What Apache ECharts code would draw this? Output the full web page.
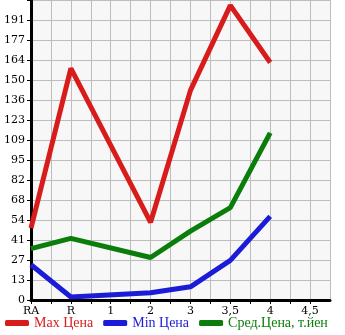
<!DOCTYPE html>
<html>
<head>
<meta charset="utf-8">
<script src="https://cdn.jsdelivr.net/npm/echarts@6/dist/echarts.min.js"></script>
<style>html,body{margin:0;padding:0;background:#fff}#c{width:345px;height:335px}</style>
</head>
<body>
<div id="c"></div>
<script>
var categories = ['RA', 'R', '1', '2', '3', '3,5', '4', '4,5'];
var yTickLabels = ['0', '13', '27', '41', '54', '68', '82', '95', '109', '123', '136', '150', '164', '177', '191'];
var maxPrice = [49, 158, null, 53, 143, 201, 162];
var minPrice = [24, 2, null, 5, 9, 27, 57];
var avgPrice = [35, 42, null, 29, 47, 63, 114];
var seriesNames = ['Max Цена', 'Min Цена', 'Сред.Цена, т.йен'];
var colors = ['#d81c1c', '#1c1cd8', '#0a7d0a'];

var yStep = 191 / 14;
var yMax = yStep * 15;

function toPoints(arr) {
  var out = [];
  arr.forEach(function (v, i) { if (v !== null) out.push([i, v]); });
  return out;
}

var chart = echarts.init(document.getElementById('c'));
var font = 'Liberation Serif';
var tickFont = 'DejaVu Serif';
chart.setOption({
  animation: false,
  backgroundColor: '#ffffff',
  grid: { left: 31, right: 15, top: 0, bottom: 35, show: true, backgroundColor: '#f7f7f7', borderWidth: 0 },
  xAxis: {
    type: 'value', min: 0, max: 7.5, interval: 0.5,
    axisLine: { show: true, onZero: false, lineStyle: { color: '#000', width: 3 } },
    axisTick: { show: true, length: 4, lineStyle: { color: '#000', width: 1 } },
    splitLine: { show: true, lineStyle: { color: '#bdbdbd', width: 1 } },
    axisLabel: {
      color: '#000', fontFamily: tickFont, fontSize: 11, margin: 6, showMaxLabel: false,
      formatter: function (v) {
        if (Math.abs(v - Math.round(v)) < 1e-6) { return categories[Math.round(v)] || ''; }
        return '';
      }
    }
  },
  yAxis: {
    type: 'value', min: 0, max: yMax, interval: yStep,
    axisLine: { show: true, lineStyle: { color: '#000', width: 3 } },
    axisTick: { show: true, length: 4, lineStyle: { color: '#000', width: 1 } },
    splitLine: { show: true, lineStyle: { color: '#bdbdbd', width: 1 } },
    axisLabel: {
      color: '#000', fontFamily: tickFont, fontSize: 11, margin: 6, showMaxLabel: false,
      formatter: function (v) {
        var i = Math.round(v / yStep);
        return yTickLabels[i] !== undefined ? yTickLabels[i] : '';
      }
    }
  },
  legend: {
    left: 0, bottom: 0, itemWidth: 24, itemHeight: 6, itemGap: 10, icon: 'roundRect',
    textStyle: { fontFamily: font, fontSize: 14 },
    data: seriesNames.map(function (n, i) { return { name: n, textStyle: { color: colors[i] } }; })
  },
  series: [maxPrice, minPrice, avgPrice].map(function (arr, i) {
    return {
      name: seriesNames[i], type: 'line', data: toPoints(arr), showSymbol: false, symbol: 'none',
      lineStyle: { color: colors[i], width: 5 }, itemStyle: { color: colors[i] }
    };
  })
});
</script>
</body>
</html>
